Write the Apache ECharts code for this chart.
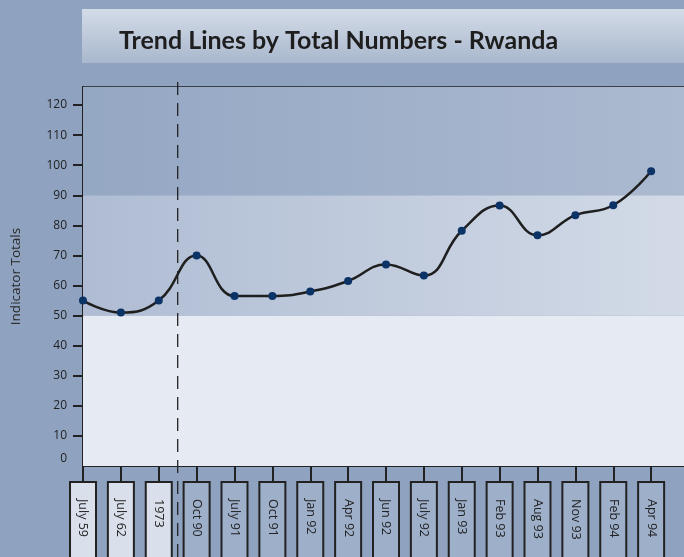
<!DOCTYPE html>
<html>
<head>
<meta charset="utf-8">
<title>Trend Lines by Total Numbers - Rwanda</title>
<style>
  html, body { margin: 0; padding: 0; background: #8fa2bf; }
  #chart { width: 684px; height: 557px; }
</style>
<script src="https://cdn.jsdelivr.net/npm/echarts@6/dist/echarts.min.js"></script>
</head>
<body>
<div id="chart"></div>
<script>
// periods along the bottom
var categories = ['July 59', 'July 62', '1973', 'Oct 90', 'July 91', 'Oct 91', 'Jan 92', 'Apr 92',
  'Jun 92', 'July 92', 'Jan 93', 'Feb 93', 'Aug 93', 'Nov 93', 'Feb 94', 'Apr 94'];
// indicator totals per period
var totals = [55, 51, 55, 70, 56.5, 56.5, 58, 61.5, 67, 63.3, 78.2, 86.6, 76.7, 83.4, 86.7, 98];
// the first few periods are the older ones (pale label boxes)
var earlyCount = 3;
// dashed separator sits between 1973 and Oct 90
var dividerAt = 2.5;
var yLabels = [0, 10, 20, 30, 40, 50, 60, 70, 80, 90, 100, 110, 120];
var yTickVals = [10, 20, 30, 40, 50, 60, 70, 80, 90, 100, 110, 120];
var yMax = 126;
// shaded bands (low / middle / high)
var bandLow = [0, 50];
var bandMid = [50, 90];
var bandHigh = [90, 126];

var chart = echarts.init(document.getElementById('chart'));

function hGrad(a, b) {
  return new echarts.graphic.LinearGradient(0, 0, 1, 0, [
    { offset: 0, color: a }, { offset: 1, color: b }
  ]);
}

var catIdx = categories.map(function (c, i) { return i; });

function boxStyle(bg) {
  return {
    fontFamily: 'Open Sans', fontSize: 12.5, color: '#222',
    backgroundColor: bg, borderColor: '#222', borderWidth: 2,
    width: 110, height: 14, padding: [5, 4, 5, 16]
  };
}

var option = {
  backgroundColor: '#8fa2bf',
  animation: false,
  graphic: [{
    type: 'rect',
    left: 82, top: 9,
    shape: { width: 610, height: 54 },
    style: {
      fill: new echarts.graphic.LinearGradient(0, 0, 0, 1, [
        { offset: 0, color: '#d3dbe7' }, { offset: 1, color: '#a9b8ce' }
      ])
    },
    z: -1
  }],
  title: {
    text: 'Trend Lines by Total Numbers - Rwanda',
    left: 114, top: 23,
    textStyle: { fontFamily: 'Lato', fontWeight: 'bold', fontSize: 25, color: '#1e1e1e' }
  },
  grid: [{
    left: 83, right: -5, top: 87, bottom: 91,
    outerBoundsMode: 'none',
    show: true, borderColor: '#222', borderWidth: 1.5, backgroundColor: 'transparent'
  }, {
    left: 83, right: -5, top: 75, bottom: 0,
    outerBoundsMode: 'none'
  }],
  xAxis: [{
    type: 'value', gridIndex: 0, min: 0, max: 16,
    splitLine: { show: false },
    axisLine: { lineStyle: { color: '#222', width: 2 } },
    axisTick: { customValues: catIdx, length: 17, lineStyle: { color: '#222', width: 2 } },
    axisLabel: {
      customValues: catIdx,
      rotate: -90,
      margin: 17,
      formatter: function (v) {
        var i = Math.round(v);
        return (i < earlyCount ? '{a|' : '{b|') + categories[i] + '}';
      },
      rich: {
        a: boxStyle('#d9e0eb'),
        b: boxStyle('#9eafca')
      }
    }
  }, {
    type: 'value', gridIndex: 1, min: 0, max: 16, show: false
  }],
  yAxis: [{
    type: 'value', gridIndex: 0, min: 0, max: yMax, interval: 10,
    name: 'Indicator Totals', nameLocation: 'middle', nameGap: 60,
    nameTextStyle: { fontFamily: 'Open Sans', fontSize: 13.5, color: '#2a2a2a' },
    splitLine: { show: false },
    axisLine: { show: true, lineStyle: { color: '#222', width: 2 } },
    axisTick: { show: true, customValues: yTickVals, length: 10, lineStyle: { color: '#222', width: 2 } },
    axisLabel: {
      customValues: yLabels, margin: 16,
      fontFamily: 'Open Sans', fontSize: 12, color: '#222',
      // the zero label sits a little above the baseline in the original
      formatter: function (v) { return v === 0 ? '{z|0}' : String(v); },
      rich: { z: { fontFamily: 'Open Sans', fontSize: 12, color: '#222', padding: [0, 0, 14, 0] } }
    }
  }, {
    type: 'value', gridIndex: 1, min: 0, max: 1, show: false
  }],
  series: [{
    type: 'line',
    xAxisIndex: 0, yAxisIndex: 0,
    data: totals.map(function (v, i) { return [i, v]; }),
    smooth: 0.45,
    symbol: 'circle', symbolSize: 8,
    lineStyle: { color: '#1f1f1f', width: 2.5 },
    itemStyle: { color: '#0c3366' },
    z: 5,
    markArea: {
      silent: true,
      data: [
        [{ yAxis: bandLow[0], itemStyle: { color: '#e6eaf3' } }, { yAxis: bandLow[1] }],
        [{ yAxis: bandMid[0], itemStyle: { color: hGrad('#afbcd3', '#d3dbe7') } }, { yAxis: bandMid[1] }],
        [{ yAxis: bandHigh[0], itemStyle: { color: hGrad('#94a7c3', '#acbad0') } }, { yAxis: bandHigh[1] }]
      ]
    }
  }, {
    type: 'line',
    xAxisIndex: 1, yAxisIndex: 1,
    data: [[dividerAt, 0], [dividerAt, 1]],
    showSymbol: false,
    silent: true,
    lineStyle: { color: '#222', width: 1.3, type: [13, 8] },
    z: 6
  }]
};

chart.setOption(option);
</script>
</body>
</html>
